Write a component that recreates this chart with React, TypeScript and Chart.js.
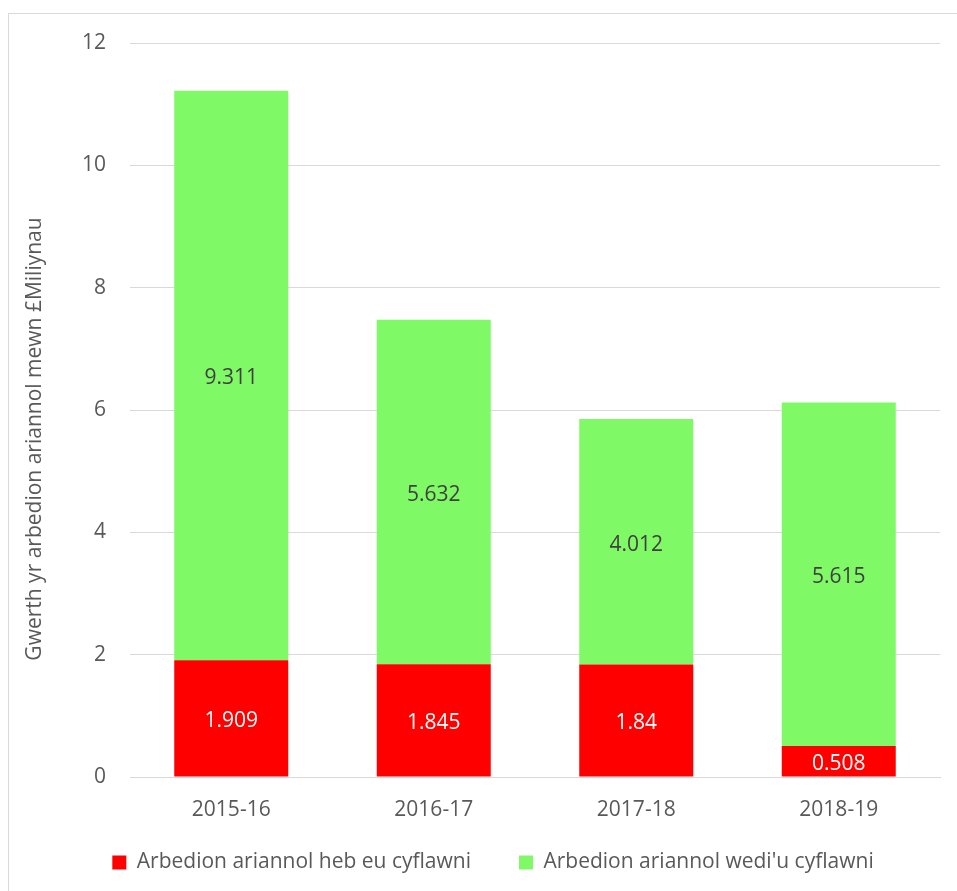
import React, { useEffect, useRef } from "react";
import { Chart, registerables } from "chart.js";

Chart.register(...registerables);

const categories = ["2015-16", "2016-17", "2017-18", "2018-19"];
const notAchieved = [1.909, 1.845, 1.84, 0.508];
const achieved = [9.311, 5.632, 4.012, 5.615];
const seriesNames = ["Arbedion ariannol heb eu cyflawni", "Arbedion ariannol wedi'u cyflawni"];
const yTitle = "Gwerth yr arbedion ariannol mewn £Miliynau";
const yMin = 0;
const yMax = 12;
const yStep = 2;

const FONT = "'Open Sans', 'Noto Sans', sans-serif";
const FS = 21;
const TEXT = "#595959";
const GRID = "#d9d9d9";

const valueLabels = {
  id: "valueLabels",
  afterDatasetsDraw(chart: any) {
    const ctx = chart.ctx;
    ctx.save();
    ctx.font = `${FS}px ${FONT}`;
    ctx.textAlign = "center";
    ctx.textBaseline = "middle";
    chart.data.datasets.forEach((ds: any, i: number) => {
      const meta = chart.getDatasetMeta(i);
      ctx.fillStyle = i === 0 ? "#ffffff" : "#404040";
      meta.data.forEach((bar: any, j: number) => {
        const p = bar.getProps(["x", "y", "base"], true);
        ctx.fillText(String(ds.data[j]), p.x, (p.y + p.base) / 2 + 3);
      });
    });
    ctx.restore();
  },
};

const yAxisTitle = {
  id: "yAxisTitle",
  afterDraw(chart: any) {
    const ctx = chart.ctx;
    const area = chart.chartArea;
    ctx.save();
    ctx.font = `${FS}px ${FONT}`;
    ctx.fillStyle = TEXT;
    ctx.textAlign = "center";
    ctx.textBaseline = "middle";
    ctx.translate(35, (area.top + area.bottom) / 2 + 29);
    ctx.rotate(-Math.PI / 2);
    ctx.fillText(yTitle, 0, 0);
    ctx.restore();
  },
};

export default function App() {
  const ref = useRef<HTMLCanvasElement>(null);
  useEffect(() => {
    if (!ref.current) return;
    Chart.defaults.font.family = FONT;
    const chart = new Chart(ref.current, {
      type: "bar",
      data: {
        labels: categories,
        datasets: [
          {
            label: seriesNames[0],
            data: notAchieved,
            backgroundColor: "#ff0000",
            categoryPercentage: 1,
            barPercentage: 0.563,
          },
          {
            label: seriesNames[1],
            data: achieved,
            backgroundColor: "#7ff966",
            categoryPercentage: 1,
            barPercentage: 0.563,
          },
        ],
      },
      options: {
        responsive: false,
        animation: false,
        devicePixelRatio: 1,
        layout: { padding: { left: 46, right: 17, top: 43, bottom: 8 } },
        plugins: {
          tooltip: { enabled: false },
          legend: {
            position: "bottom",
            labels: {
              boxWidth: 14,
              boxHeight: 14,
              padding: 48,
              color: TEXT,
              font: { size: FS, family: FONT },
            },
          },
        },
        scales: {
          x: {
            stacked: true,
            grid: { display: false, drawTicks: false },
            border: { display: true, color: GRID, width: 1 },
            ticks: { color: TEXT, font: { size: FS, family: FONT }, padding: -46, mirror: true },
            afterFit(scale: any) {
              scale.height = 27;
            },
          },
          y: {
            stacked: true,
            min: yMin,
            max: yMax,
            ticks: { stepSize: yStep, color: TEXT, font: { size: FS, family: FONT }, padding: 24 },
            grid: { color: GRID, lineWidth: 1, drawTicks: false },
            border: { display: false },
            title: { display: false, text: yTitle },
            afterFit(scale: any) {
              scale.width = 84;
            },
          },
        },
      },
      plugins: [valueLabels, yAxisTitle],
    });
    return () => chart.destroy();
  }, []);

  return (
    <div>
      <div
        style={{
          position: "fixed",
          left: 8,
          top: 13,
          width: 949,
          height: 878,
          borderLeft: `1px solid ${GRID}`,
          borderTop: `1px solid ${GRID}`,
          boxSizing: "border-box",
        }}
      />
      <div style={{ position: "fixed", left: 0, top: 0, width: 957, height: 891 }}>
        <canvas ref={ref} width={957} height={891} style={{ width: 957, height: 891 }} />
      </div>
    </div>
  );
}
